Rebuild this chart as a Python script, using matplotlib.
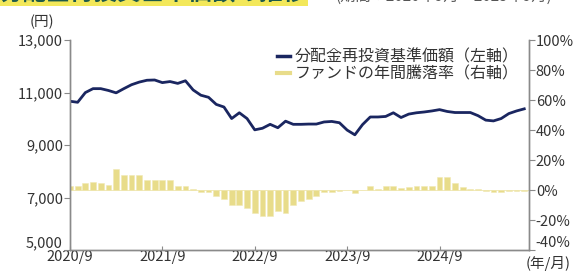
import matplotlib
matplotlib.use("Agg")
import matplotlib.pyplot as plt
import numpy as np

plt.rcParams["font.family"] = ["Noto Sans CJK JP", "DejaVu Sans"]

# ---- data (monthly, 2020/9 .. 2025/8) ---------------------------------------
nav = [10670, 10630, 11000, 11150, 11150, 11080, 10990, 11150, 11300, 11400,
       11470, 11480, 11380, 11420, 11350, 11450, 11100, 10900, 10820, 10550,
       10450, 10010, 10230, 10010, 9580, 9640, 9790, 9660, 9910, 9790,
       9790, 9800, 9800, 9880, 9900, 9850, 9570, 9390, 9780, 10070,
       10070, 10090, 10230, 10050, 10180, 10230, 10260, 10300, 10350, 10280,
       10240, 10240, 10240, 10120, 9950, 9920, 10010, 10200, 10300, 10380]
annual_ret = [3, 3, 5, 5.5, 5, 3.5, 14, 10, 10, 10,
              7, 7, 7, 7, 3, 3, 0.5, -1, -1, -4,
              -6, -10, -10, -12, -15, -17, -17, -14, -15, -10,
              -7, -6, -4, -1, -1.5, -0.5, 0, -2, 0.3, 3,
              1, 2.5, 2.5, 1.5, 2, 2.5, 2.5, 3, 9, 9,
              5, 2, 0.5, 0.5, -0.5, -1, -1, -0.5, -0.5, -0.5]
xtick_labels = ["2020/9", "2021/9", "2022/9", "2023/9", "2024/9"]
yen_ticks = [5000, 7000, 9000, 11000, 13000]
pct_ticks = [-40, -20, 0, 20, 40, 60, 80, 100]
label_nav = "分配金再投資基準価額（左軸）"
label_ret = "ファンドの年間騰落率（右軸）"

months = np.arange(len(nav))
NAVY = "#1a2660"
BAR = "#e8dc8a"
GREY = "#8a8a8a"
TXT = "#333333"

fig = plt.figure(figsize=(5.78, 2.71), dpi=100)
ax = fig.add_axes([0.121, 0.0775, 0.794, 0.7745])
ax2 = ax.twinx()

# bars on the right axis, line on the left axis (line drawn on top)
ax2.bar(months, annual_ret, width=0.75, color=BAR, edgecolor="#f1e9b5",
        linewidth=0.4, zorder=1)
ax2.axhline(0, color="#efe6b0", lw=0.6, zorder=0)
ax.set_zorder(ax2.get_zorder() + 1)
ax.patch.set_visible(False)
ax.plot(months, nav, color=NAVY, lw=2.0, solid_joinstyle="round")

ax.set_xlim(0, 59.6)
ax.set_ylim(5000, 13000)
ax2.set_ylim(-40, 100)

ax.set_yticks(yen_ticks)
ax.set_yticklabels([f"{v:,}" for v in yen_ticks])
ax2.set_yticks(pct_ticks)
ax2.set_yticklabels([f"{v}%" for v in pct_ticks])
ax.set_xticks(np.arange(0, 60, 12))
ax.set_xticklabels(xtick_labels)

for a in (ax, ax2):
    for s in a.spines.values():
        s.set_color(GREY)
        s.set_linewidth(1.0)
    a.spines["top"].set_visible(False)
ax.tick_params(axis="y", direction="out", length=4, color=GREY,
               labelsize=10.5, labelcolor=TXT, pad=1)
ax2.tick_params(axis="y", direction="out", length=4, color=GREY,
                labelsize=10.5, labelcolor=TXT, pad=1)
ax.tick_params(axis="x", direction="in", length=3, color=GREY,
               labelsize=10.5, labelcolor=TXT, pad=0)
# nudge the bottom-most y labels up a little, like the reference
ax.get_yticklabels()[0].set_va("bottom")
ax2.get_yticklabels()[0].set_va("bottom")

fig.text(0.052, 0.92, "(円)", fontsize=10.5, color=TXT, va="center")
fig.text(0.91, 0.0, "(年/月)", fontsize=10.5, color=TXT, va="bottom")

# legend
h1, = ax.plot([], [], color=NAVY, lw=2.5)
h2, = ax.plot([], [], color=BAR, lw=3)
ax.legend([h1, h2], [label_nav, label_ret], loc="upper right",
          bbox_to_anchor=(0.995, 1.0), frameon=False, fontsize=11.5,
          handlelength=0.8, handletextpad=0.3, labelspacing=0.05,
          borderaxespad=0.1, labelcolor=TXT)

# title line, mostly cut off at the top of the image
fig.text(0.0, 0.982, "分配金再投資基準価額の推移", fontsize=17, fontweight="bold",
         color="#1e5a4a", va="bottom",
         bbox=dict(facecolor="#f3e85a", edgecolor="none", pad=0.5))
fig.text(0.58, 0.984, "(期間：2020年9月～2025年9月)", fontsize=11,
         color="#555555", va="bottom")

fig.savefig("out.png", dpi=100)
